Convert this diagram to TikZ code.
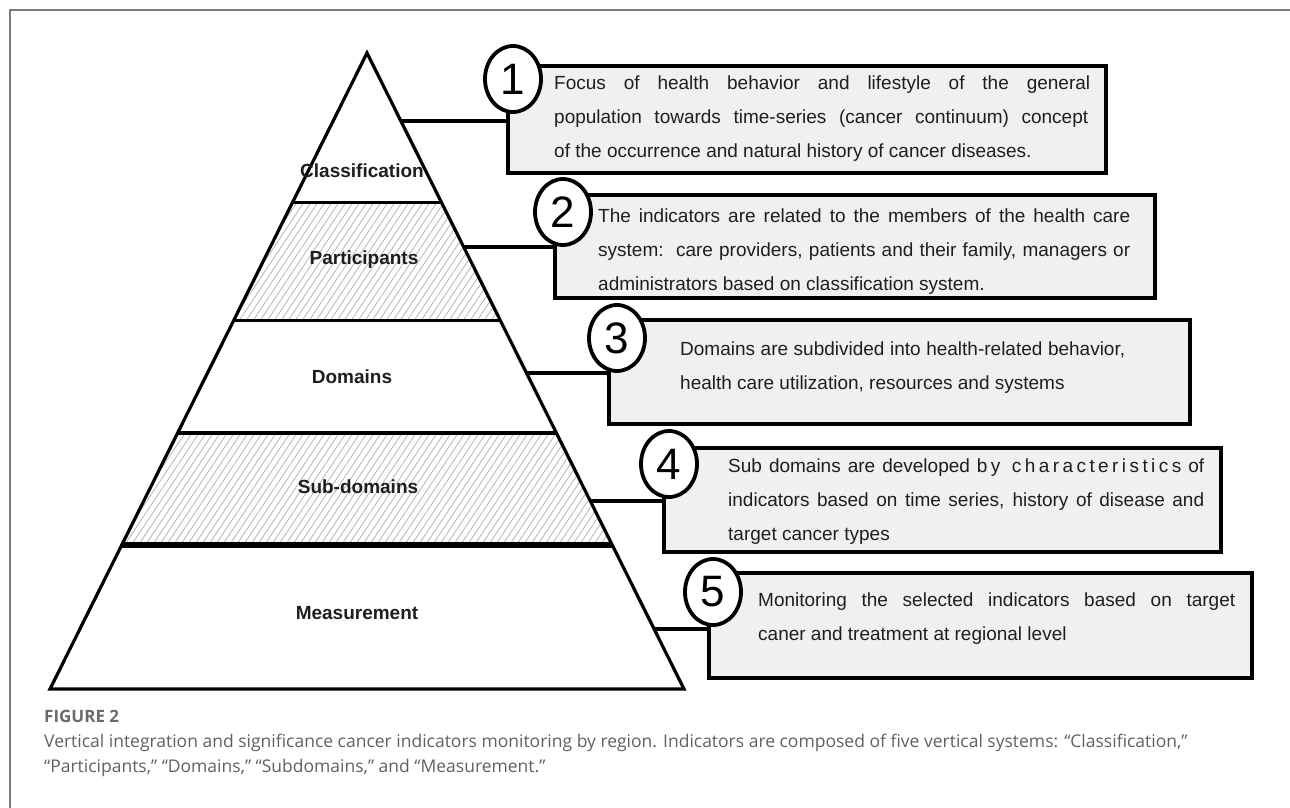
\documentclass[tikz,border=0pt]{standalone}
\usepackage{fontspec}
\setmainfont{Liberation Sans}
\newfontfamily\capfont{Open Sans}
\usetikzlibrary{shapes.geometric}
\definecolor{boxfill}{HTML}{F0F0F0}
\definecolor{txt}{HTML}{1E1E1E}
\definecolor{hatchgray}{HTML}{ADADAD}
\definecolor{capgray}{HTML}{606060}
\definecolor{labgray}{HTML}{6A6A6A}
\definecolor{framegray}{HTML}{7A7A7A}
\begin{document}
\begin{tikzpicture}[x=1pt,y=-1pt,
  layer/.style={font=\bfseries\fontsize{19}{22}\selectfont, text=txt, inner sep=0},
  numcirc/.style={ellipse, draw=black, line width=3.8pt, fill=white, minimum width=56pt, minimum height=66pt, inner sep=0, font=\fontsize{44}{46}\selectfont},
  infobox/.style={draw=black, line width=3.5pt, fill=boxfill, anchor=north west, inner sep=0, outer sep=0},
  infotext/.style={anchor=north west, align=left, inner sep=0, font=\fontsize{19}{34}\selectfont, text=txt},
  link/.style={line width=3.5pt},
  divider/.style={line width=3pt},
  hatchline/.style={draw=hatchgray, line width=0.7pt},
]
\useasboundingbox (0,0) rectangle (1290,808);
% frame
\draw[framegray, line width=1.5pt] (10,808) -- (10,10) -- (1290,10);

% pyramid coordinates
\coordinate (apex) at (367,53);
\coordinate (L1) at (292.7,202); \coordinate (R1) at (441.3,202);
\coordinate (L2) at (233.9,320); \coordinate (R2) at (500.1,320);
\coordinate (L3) at (177.6,433); \coordinate (R3) at (556.4,433);
\coordinate (L4) at (121.8,545); \coordinate (R4) at (612.2,545);
\coordinate (L5) at (50,689);    \coordinate (R5) at (684,689);

% hatching
\begin{scope}
  \clip (L1) -- (R1) -- (R2) -- (L2) -- cycle (L3) -- (R3) -- (R4) -- (L4) -- cycle;
  \foreach \i in {0,...,150} \draw[hatchline] ({-350+7*\i},700) -- ++(467,-700);
\end{scope}

% dividers
\draw[divider] (L1) -- (R1);
\draw[divider] (L2) -- (R2);
\draw[line width=4pt] (L3) -- (R3);
\draw[line width=6pt] (L4) -- (R4);
% outline
\draw[line width=3.2pt, line join=miter] (apex) -- (L5) -- (R5) -- cycle;

% layer labels
\node[layer] (lclass) at (362,171) {Classification};
\node[layer] (lpart) at (364,260) {Participants};
\node[layer] (ldom) at (352,377) {Domains};
\node[layer] (lsub) at (358,487) {Sub-domains};
\node[layer] (lmeas) at (357,613) {Measurement};

% connector start points on pyramid edge
\coordinate (e1) at (400.9,121);
\coordinate (e2) at (463.7,247);
\coordinate (e3) at (526.5,373);
\coordinate (e4) at (590.3,501);
\coordinate (e5) at (654.1,629);

% boxes
\node[infobox, minimum width=598pt, minimum height=107pt] (b1) at (508,66) {};
\node[infobox, minimum width=600pt, minimum height=103pt] (b2) at (555,195) {};
\node[infobox, minimum width=581pt, minimum height=104pt] (b3) at (609,320) {};
\node[infobox, minimum width=557pt, minimum height=104pt] (b4) at (664,448) {};
\node[infobox, minimum width=543pt, minimum height=105pt] (b5) at (709,573) {};

% connectors
\draw[link] (e1) -- (e1 -| b1.west);
\draw[link] (e2) -- (e2 -| b2.west);
\draw[link] (e3) -- (e3 -| b3.west);
\draw[link] (e4) -- (e4 -| b4.west);
\draw[link] (e5) -- (e5 -| b5.west);

% number circles
\node[numcirc] (c1) at (513,79) {1};
\node[numcirc] (c2) at (563,212) {2};
\node[numcirc] (c3) at (617,338) {3};
\node[numcirc] (c4) at (669,464) {4};
\node[numcirc] (c5) at (713,592) {5};

% box texts
\node[infotext] (t1) at (554,76) {\makebox[536pt][s]{Focus of health behavior and lifestyle of the general}\\
\makebox[534pt][s]{population towards time-series (cancer continuum) concept}\\
of the occurrence and natural history of cancer diseases.};
\node[infotext] (t2) at (598,209) {\makebox[532pt][s]{The indicators are related to the members of the health care}\\
\makebox[532pt][s]{system:\ \ care providers, patients and their family, managers or}\\
administrators based on classification system.};
\node[infotext] (t3) at (680,342) {\makebox[445pt][s]{Domains are subdivided into health-related behavior,}\\
health care utilization, resources and systems};
\node[infotext] (t4) at (728,459) {\makebox[476pt][s]{Sub domains are developed {\addfontfeature{LetterSpace=18}by characteristics} of}\\
\makebox[476pt][s]{indicators based on time series, history of disease and}\\
target cancer types};
\node[infotext] (t5) at (758,593) {\makebox[477pt][s]{Monitoring the selected indicators based on target}\\
caner and treatment at regional level};

% caption
\node[anchor=west, inner sep=0, font=\capfont\bfseries\fontsize{17}{19}\selectfont, text=labgray] (figlabel) at (44,716) {FIGURE 2};
\node[anchor=north west, align=left, inner sep=0, font=\capfont\fontsize{17.5}{25}\selectfont, text=capgray] (caption) at (44,734) {Vertical integration and significance cancer indicators monitoring by region. Indicators are composed of five vertical systems: “Classification,”\\
“Participants,” “Domains,” “Subdomains,” and “Measurement.”};
\end{tikzpicture}
\end{document}
